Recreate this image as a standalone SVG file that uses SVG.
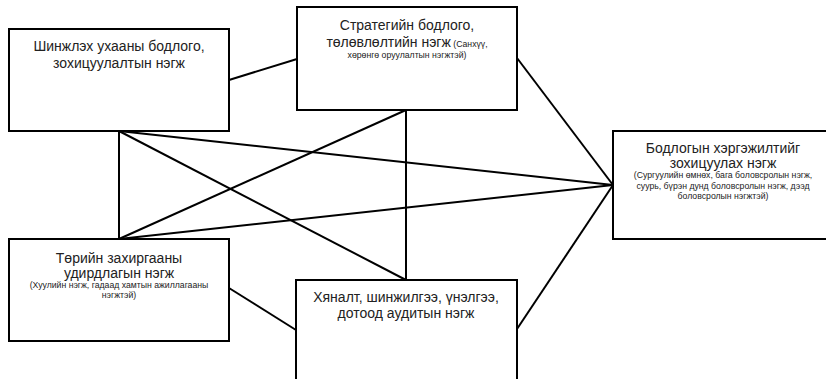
<svg xmlns="http://www.w3.org/2000/svg" width="826" height="379" viewBox="0 0 826 379">
<style>
.box{fill:#fff;stroke:#000;stroke-width:2}
.ln{stroke:#000;stroke-width:2;fill:none}
text{font-family:"Liberation Sans",Arial,sans-serif;fill:#222;text-anchor:middle}
.t{font-size:14px}
.s{font-size:8.7px}
</style>
<rect width="826" height="379" fill="#fff"/>
<g id="connectors">
<line class="ln" x1="229" y1="80" x2="297" y2="59"/>
<line class="ln" x1="517" y1="58" x2="613" y2="185"/>
<line class="ln" x1="119" y1="131" x2="119" y2="239"/>
<line class="ln" x1="119" y1="131" x2="613" y2="185"/>
<line class="ln" x1="119" y1="131" x2="406" y2="280"/>
<line class="ln" x1="119" y1="239" x2="406" y2="110"/>
<line class="ln" x1="119" y1="239" x2="613" y2="185"/>
<line class="ln" x1="406" y1="110" x2="406" y2="280"/>
<line class="ln" x1="229" y1="288" x2="296" y2="330"/>
<line class="ln" x1="517" y1="329" x2="613" y2="185"/>
</g>
<g id="node-science">
<rect class="box" x="9" y="29" width="220" height="102"/>
<text class="t" x="119" y="51">Шинжлэх ухааны бодлого,</text>
<text class="t" x="119" y="68">зохицуулалтын нэгж</text>
</g>
<g id="node-strategy">
<rect class="box" x="297" y="7" width="220" height="103"/>
<text class="t" x="407" y="30">Стратегийн бодлого,</text>
<text x="407" y="47"><tspan class="t">төлөвлөлтийн нэгж</tspan><tspan class="s"> (Санхүү,</tspan></text>
<text class="s" x="407" y="58">хөрөнгө оруулалтын нэгжтэй)</text>
</g>
<g id="node-implementation">
<rect class="box" x="613" y="131" width="220" height="108"/>
<text class="t" x="723" y="153">Бодлогын хэргэжилтийг</text>
<text class="t" x="723" y="168">зохицуулах нэгж</text>
<text class="s" x="723" y="178">(Сургуулийн өмнөх, бага боловсролын нэгж,</text>
<text class="s" x="723" y="189">суурь, бүрэн дунд боловсролын нэгж, дээд</text>
<text class="s" x="723" y="199">боловсролын нэгжтэй)</text>
</g>
<g id="node-admin">
<rect class="box" x="9" y="239" width="220" height="102"/>
<text class="t" x="119" y="263">Төрийн захиргааны</text>
<text class="t" x="119" y="278">удирдлагын нэгж</text>
<text class="s" x="119" y="288">(Хуулийн нэгж, гадаад хамтын ажиллагааны</text>
<text class="s" x="119" y="298">нэгжтэй)</text>
</g>
<g id="node-audit">
<rect class="box" x="296" y="280" width="221" height="104"/>
<text class="t" x="406" y="302">Хяналт, шинжилгээ, үнэлгээ,</text>
<text class="t" x="406" y="318">дотоод аудитын нэгж</text>
</g>
</svg>
